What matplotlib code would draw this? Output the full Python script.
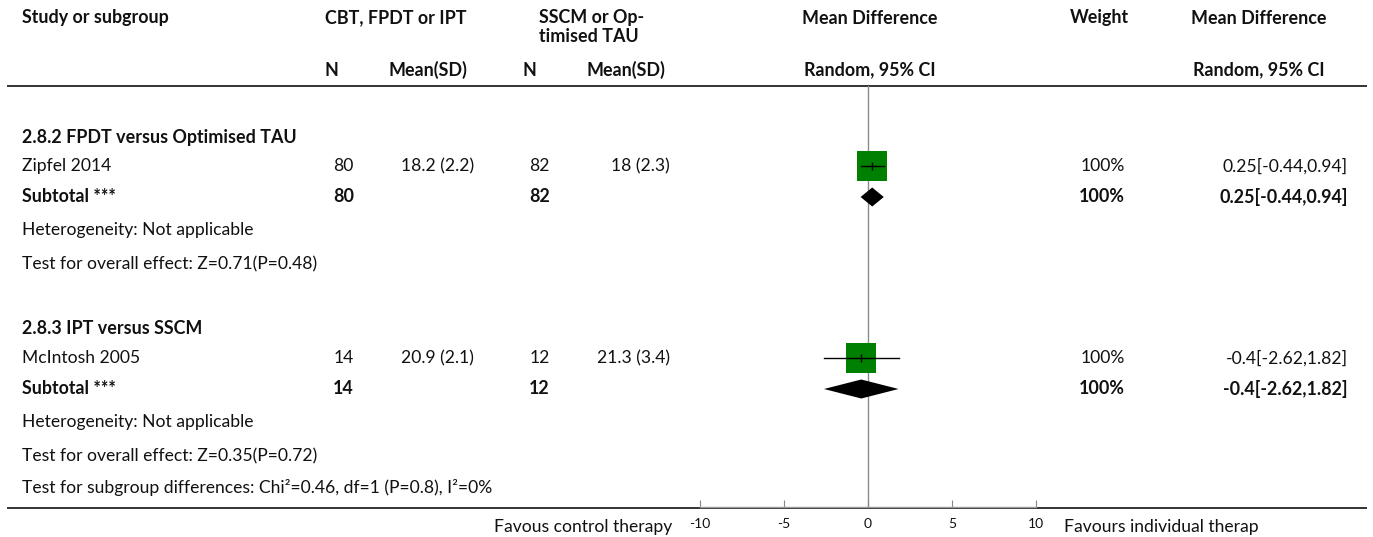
import matplotlib
matplotlib.use("Agg")
import matplotlib.pyplot as plt

# ---- data ----
groups = ["2.8.2 FPDT versus Optimised TAU", "2.8.3 IPT versus SSCM"]
studies = ["Zipfel 2014", "McIntosh 2005"]
n_exp = [80, 14]
mean_exp = [18.2, 20.9]
sd_exp = [2.2, 2.1]
n_ctl = [82, 12]
mean_ctl = [18, 21.3]
sd_ctl = [2.3, 3.4]
md = [0.25, -0.4]
ci_lo = [-0.44, -2.62]
ci_hi = [0.94, 1.82]
weights = [100, 100]
sub_md = [0.25, -0.4]
sub_lo = [-0.44, -2.62]
sub_hi = [0.94, 1.82]
heterogeneity = ["Not applicable", "Not applicable"]
overall_effect = ["Z=0.71(P=0.48)", "Z=0.35(P=0.72)"]
subgroup_diff = "Chi\u00b2=0.46, df=1 (P=0.8), I\u00b2=0%"
x_ticks = [-10, -5, 0, 5, 10]
left_label = "Favous control therapy"
right_label = "Favours individual therap"

plt.rcParams["font.family"] = ["Lato", "DejaVu Sans"]

W, H = 1373, 537
fig = plt.figure(figsize=(W / 100, H / 100), dpi=100)
ax = fig.add_axes([0, 0, 1, 1])
ax.set_xlim(0, W)
ax.set_ylim(H, 0)
ax.axis("off")

FS = 12.6
FSB = 12.9
TXT = "#111111"


def t(x, y, s, ha="left", bold=False):
    ax.text(x, y, s, ha=ha, va="center", fontsize=FSB if bold else FS,
            color=TXT, fontweight="bold" if bold else "normal")


# header
t(22, 18, "Study or subgroup", bold=True)
t(325, 18, "CBT, FPDT or IPT", bold=True)
t(539, 18, "SSCM or Op-", bold=True)
t(539, 37, "timised TAU", bold=True)
t(870, 18, "Mean Difference", ha="center", bold=True)
t(1099, 18, "Weight", ha="center", bold=True)
t(1259, 18, "Mean Difference", ha="center", bold=True)
t(325, 70, "N", bold=True)
t(389, 70, "Mean(SD)", bold=True)
t(522, 70, "N", bold=True)
t(586, 70, "Mean(SD)", bold=True)
t(870, 70, "Random, 95% CI", ha="center", bold=True)
t(1259, 70, "Random, 95% CI", ha="center", bold=True)

ax.plot([7, 1367], [86, 86], color="#333333", lw=1.4, solid_capstyle="butt")
ax.plot([7, 1367], [508, 508], color="#333333", lw=1.4, solid_capstyle="butt")

# forest panel
x0, x1 = 700, 1036
ytop, ybot = 86, 507
axf = fig.add_axes([x0 / W, (H - ybot) / H, (x1 - x0) / W, (ybot - ytop) / H])
axf.set_xlim(-10, 10)
axf.set_ylim(ybot, ytop)
axf.patch.set_alpha(0)
for s in ("top", "left", "right"):
    axf.spines[s].set_visible(False)
axf.spines["bottom"].set_color("#999999")
axf.spines["bottom"].set_linewidth(1.0)
axf.set_yticks([])
axf.set_xticks(x_ticks)
axf.set_xticklabels([str(v) for v in x_ticks])
axf.tick_params(axis="x", direction="in", length=5, width=0.8, color="#888888",
                labelsize=10, labelcolor=TXT, pad=8)
axf.axvline(0, color="#8c8c8c", lw=1.0, zorder=1)

block = 192
for k in range(len(groups)):
    base = block * k
    yg, ys, ysub, yhet, yov = 137 + base, 166 + base, 197 + base, 230 + base, 264 + base
    t(22, yg, groups[k], bold=True)
    t(22, ys, studies[k])
    t(354, ys, f"{n_exp[k]}", ha="right")
    t(474, ys, f"{mean_exp[k]:g} ({sd_exp[k]:g})", ha="right")
    t(550, ys, f"{n_ctl[k]}", ha="right")
    t(670, ys, f"{mean_ctl[k]:g} ({sd_ctl[k]:g})", ha="right")
    t(1125, ys, f"{weights[k]}%", ha="right")
    t(1348, ys, f"{md[k]:g}[{ci_lo[k]:g},{ci_hi[k]:g}]", ha="right")

    t(22, ysub, "Subtotal ***", bold=True)
    t(354, ysub, f"{n_exp[k]}", ha="right", bold=True)
    t(550, ysub, f"{n_ctl[k]}", ha="right", bold=True)
    t(1125, ysub, f"{weights[k]}%", ha="right", bold=True)
    t(1348, ysub, f"{sub_md[k]:g}[{sub_lo[k]:g},{sub_hi[k]:g}]", ha="right", bold=True)

    t(22, yhet, f"Heterogeneity: {heterogeneity[k]}")
    t(22, yov, f"Test for overall effect: {overall_effect[k]}")

    # study estimate: weighted square, CI whisker, centre tick
    axf.plot([md[k]], [ys], marker="s", markersize=22.3, color="#008000",
             markeredgewidth=0, zorder=3)
    axf.plot([ci_lo[k], ci_hi[k]], [ys, ys], color="black", lw=1.0, zorder=4)
    axf.plot([md[k]], [ys], marker="|", markersize=6, color="black",
             markeredgewidth=1.0, zorder=4)

    # pooled diamond
    hh = 9.5
    axf.fill([sub_lo[k], sub_md[k], sub_hi[k], sub_md[k]],
             [ysub, ysub - hh, ysub, ysub + hh], color="black", lw=0, zorder=3)

t(22, 487, f"Test for subgroup differences: {subgroup_diff}")
t(672, 527, left_label, ha="right")
t(1064, 527, right_label, ha="left")

fig.savefig("out.png", dpi=100)
